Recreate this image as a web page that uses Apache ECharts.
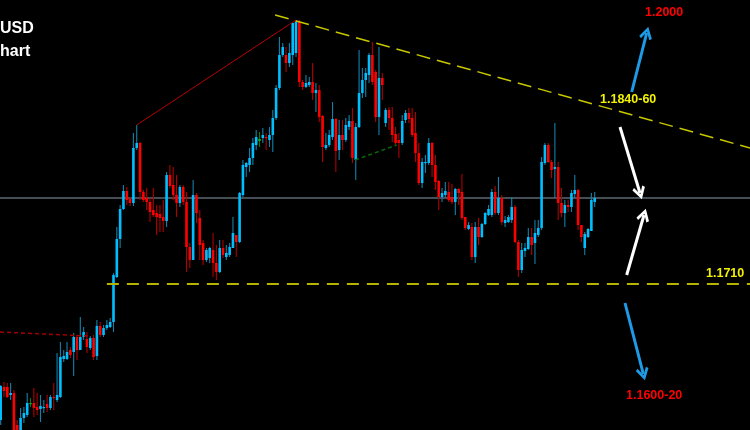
<!DOCTYPE html>
<html><head><meta charset="utf-8">
<script src="https://cdn.jsdelivr.net/npm/echarts@6/dist/echarts.min.js"></script>
<style>html,body{margin:0;padding:0;background:#000;}#c{width:750px;height:430px;}</style>
</head><body><div id="c"></div>
<script>
// ---- Candle data (EUR/USD) ----
const opens = [1.1574,1.1607,1.1607,1.1599,1.1601,1.1569,1.1564,1.1576,1.1579,1.1590,
1.1591,1.1587,1.1585,1.1586,1.1590,1.1586,1.1597,1.1594,1.1597,1.1635,
1.1635,1.1644,1.1642,1.1657,1.1644,1.1657,1.1655,1.1646,1.1656,1.1638,
1.1668,1.1659,1.1666,1.1667,1.1672,1.1717,1.1755,1.1785,1.1803,1.1795,
1.1791,1.1846,1.1851,1.1802,1.1796,1.1792,1.1784,1.1781,1.1780,1.1777,
1.1773,1.1819,1.1809,1.1799,1.1791,1.1807,1.1792,1.1747,1.1734,1.1799,
1.1776,1.1751,1.1734,1.1736,1.1744,1.1731,1.1722,1.1746,1.1737,1.1739,
1.1746,1.1759,1.1752,1.1799,1.1827,1.1829,1.1836,1.1849,1.1853,1.1856,
1.1857,1.1854,1.1859,1.1876,1.1906,1.1939,1.1939,1.1931,1.1939,1.1941,
1.1972,1.1912,1.1907,1.1909,1.1912,1.1901,1.1904,1.1878,1.1846,1.1849,
1.1857,1.1875,1.1844,1.1859,1.1854,1.1867,1.1873,1.1834,1.1867,1.1901,
1.1914,1.1919,1.1939,1.1922,1.1877,1.1916,1.1871,1.1884,1.1876,1.1860,
1.1854,1.1851,1.1874,1.1881,1.1876,1.1861,1.1841,1.1811,1.1831,1.1831,
1.1851,1.1829,1.1813,1.1797,1.1799,1.1802,1.1797,1.1792,1.1805,1.1802,
1.1777,1.1765,1.1767,1.1737,1.1767,1.1757,1.1770,1.1779,1.1779,1.1802,
1.1781,1.1796,1.1771,1.1772,1.1774,1.1787,1.1752,1.1724,1.1743,1.1745,
1.1757,1.1751,1.1759,1.1766,1.1831,1.1849,1.1832,1.1825,1.1827,1.1791,
1.1781,1.1789,1.1787,1.1800,1.1804,1.1769,1.1746,1.1757,1.1763,1.1792];
const closes = [1.1608,1.1603,1.1597,1.1601,1.1562,1.1554,1.1576,1.1581,1.1591,1.1591,
1.1586,1.1584,1.1588,1.1587,1.1586,1.1597,1.1596,1.1599,1.1637,1.1638,
1.1642,1.1639,1.1657,1.1644,1.1657,1.1662,1.1647,1.1656,1.1637,1.1668,
1.1659,1.1666,1.1669,1.1672,1.1719,1.1755,1.1785,1.1803,1.1794,1.1791,
1.1846,1.1851,1.1802,1.1794,1.1792,1.1782,1.1779,1.1777,1.1776,1.1773,
1.1819,1.1808,1.1799,1.1791,1.1807,1.1792,1.1747,1.1734,1.1799,1.1781,
1.1749,1.1734,1.1744,1.1746,1.1731,1.1722,1.1746,1.1739,1.1741,1.1747,
1.1761,1.1752,1.1801,1.1829,1.1831,1.1836,1.1851,1.1857,1.1855,1.1859,
1.1856,1.1859,1.1876,1.1906,1.1939,1.1947,1.1931,1.1941,1.1971,1.1972,
1.1912,1.1907,1.1911,1.1912,1.1901,1.1904,1.1877,1.1847,1.1849,1.1859,
1.1875,1.1843,1.1859,1.1854,1.1869,1.1873,1.1836,1.1867,1.1901,1.1914,
1.1921,1.1939,1.1912,1.1877,1.1916,1.1909,1.1884,1.1876,1.1859,1.1851,
1.1851,1.1873,1.1881,1.1875,1.1859,1.1841,1.1811,1.1832,1.1832,1.1851,
1.1829,1.1812,1.1797,1.1801,1.1803,1.1794,1.1792,1.1805,1.1801,1.1776,
1.1766,1.1769,1.1737,1.1767,1.1757,1.1770,1.1781,1.1785,1.1802,1.1781,
1.1796,1.1772,1.1774,1.1777,1.1787,1.1752,1.1724,1.1744,1.1746,1.1757,
1.1749,1.1761,1.1766,1.1832,1.1849,1.1832,1.1824,1.1827,1.1791,1.1781,
1.1789,1.1787,1.1801,1.1804,1.1769,1.1757,1.1760,1.1765,1.1794,1.1796];
const highs = [1.1609,1.1612,1.1611,1.1611,1.1604,1.1574,1.1586,1.1587,1.1601,1.1596,
1.1606,1.1601,1.1599,1.1594,1.1599,1.1599,1.1611,1.1641,1.1652,1.1644,
1.1652,1.1647,1.1661,1.1659,1.1677,1.1667,1.1662,1.1658,1.1659,1.1674,
1.1672,1.1669,1.1674,1.1676,1.1721,1.1767,1.1789,1.1809,1.1807,1.1797,
1.1861,1.1869,1.1852,1.1804,1.1806,1.1796,1.1806,1.1789,1.1789,1.1794,
1.1822,1.1829,1.1827,1.1819,1.1809,1.1809,1.1802,1.1751,1.1814,1.1801,
1.1784,1.1754,1.1746,1.1747,1.1761,1.1749,1.1754,1.1754,1.1749,1.1751,
1.1777,1.1759,1.1802,1.1834,1.1832,1.1846,1.1856,1.1864,1.1862,1.1866,
1.1861,1.1867,1.1884,1.1909,1.1957,1.1951,1.1947,1.1951,1.1971,1.1974,
1.1974,1.1914,1.1919,1.1917,1.1931,1.1911,1.1909,1.1879,1.1861,1.1864,
1.1892,1.1876,1.1874,1.1874,1.1876,1.1879,1.1886,1.1871,1.1944,1.1926,
1.1926,1.1941,1.1952,1.1924,1.1947,1.1921,1.1886,1.1887,1.1887,1.1867,
1.1861,1.1879,1.1884,1.1886,1.1886,1.1882,1.1851,1.1836,1.1839,1.1856,
1.1852,1.1839,1.1814,1.1806,1.1812,1.1812,1.1810,1.1806,1.1806,1.1820,
1.1777,1.1772,1.1771,1.1772,1.1776,1.1771,1.1782,1.1789,1.1805,1.1808,
1.1817,1.1799,1.1778,1.1779,1.1797,1.1789,1.1754,1.1751,1.1751,1.1766,
1.1766,1.1774,1.1774,1.1837,1.1851,1.1851,1.1834,1.1871,1.1832,1.1806,
1.1794,1.1794,1.1804,1.1819,1.1805,1.1769,1.1762,1.1766,1.1801,1.1802];
const lows = [1.1569,1.1597,1.1596,1.1594,1.1559,1.1549,1.1559,1.1571,1.1577,1.1587,
1.1577,1.1579,1.1572,1.1581,1.1582,1.1584,1.1584,1.1592,1.1596,1.1632,
1.1634,1.1636,1.1618,1.1634,1.1644,1.1654,1.1641,1.1644,1.1634,1.1634,
1.1657,1.1657,1.1664,1.1666,1.1662,1.1716,1.1746,1.1784,1.1789,1.1788,
1.1788,1.1844,1.1794,1.1792,1.1784,1.1772,1.1777,1.1759,1.1762,1.1762,
1.1767,1.1806,1.1794,1.1777,1.1787,1.1789,1.1722,1.1726,1.1734,1.1771,
1.1734,1.1729,1.1732,1.1731,1.1717,1.1714,1.1721,1.1736,1.1734,1.1737,
1.1746,1.1737,1.1751,1.1797,1.1817,1.1822,1.1829,1.1844,1.1847,1.1851,
1.1844,1.1847,1.1842,1.1874,1.1904,1.1937,1.1922,1.1927,1.1929,1.1937,
1.1907,1.1904,1.1906,1.1907,1.1894,1.1882,1.1872,1.1832,1.1844,1.1847,
1.1854,1.1822,1.1834,1.1844,1.1852,1.1864,1.1831,1.1814,1.1866,1.1896,
1.1897,1.1911,1.1909,1.1872,1.1859,1.1894,1.1867,1.1864,1.1852,1.1849,
1.1836,1.1849,1.1871,1.1871,1.1857,1.1832,1.1809,1.1806,1.1821,1.1829,
1.1817,1.1804,1.1784,1.1792,1.1796,1.1792,1.1790,1.1779,1.1789,1.1774,
1.1764,1.1764,1.1734,1.1731,1.1749,1.1756,1.1769,1.1778,1.1777,1.1779,
1.1779,1.1769,1.1767,1.1771,1.1771,1.1751,1.1717,1.1721,1.1737,1.1744,
1.1739,1.1730,1.1757,1.1764,1.1829,1.1831,1.1816,1.1796,1.1774,1.1777,
1.1767,1.1782,1.1782,1.1796,1.1764,1.1752,1.1739,1.1756,1.1763,1.1787];
const dojiBars = [9, 78];           // bars drawn in green in the original

// ---- Levels / annotation lines (bar index, price) ----
const currentPrice = 1.1796;
const supportLevel = 1.1710;
const supportStart = 32;
const trendLine = [[82.7, 1.1979], [225.8, 1.1846]];
const riseLine = [[41, 1.1869], [89, 1.1974]];
const oldSupport = [[-0.2, 1.1662], [26.3, 1.1658]];
const greenLine = [[106.8, 1.1834], [119.3, 1.1849]];
const arrows = [
  {from: [190.15, 1.1902], to: [194.67, 1.1961], color: '#1e9be6'},
  {from: [186.63, 1.1867], to: [192.65, 1.1801], color: '#ffffff'},
  {from: [188.64, 1.1719], to: [193.86, 1.1779], color: '#ffffff'},
  {from: [188.13, 1.1691], to: [193.65, 1.1620], color: '#1e9be6'}
];
const labels = [
  {text: 'USD', x: 0, y: 28.5, color: '#ffffff', size: 16},
  {text: 'hart', x: 0, y: 52, color: '#ffffff', size: 16},
  {text: '1.2000', x: 645, y: 12.5, color: '#ff0000', size: 12.5},
  {text: '1.1840-60', x: 600, y: 100, color: '#f2f200', size: 12.5},
  {text: '1.1710', x: 706, y: 274, color: '#f2f200', size: 12.5},
  {text: '1.1600-20', x: 626, y: 396, color: '#ff0000', size: 12.5}
];

const xMin = -0.2, xMax = 225.8;
const yMin = 1.1564, yMax = 1.1994;

const chart = echarts.init(document.getElementById('c'), null, {renderer: 'canvas'});
const ohlc = opens.map((o, i) => [i, o, closes[i], lows[i], highs[i]]);
const chevron = 'path://M5,0 L10,8.5 L8.3,10 L5,4 L1.7,10 L0,8.5 Z';

function seg(data, color, width, type, z) {
  return {type: 'line', data: data, showSymbol: false, symbol: 'none', silent: true,
    lineStyle: {color: color, width: width, type: type}, z: z, animation: false};
}

chart.setOption({
  backgroundColor: '#000000',
  animation: false,
  grid: {left: 0, right: 0, top: 0, bottom: 0},
  xAxis: {type: 'value', min: xMin, max: xMax, show: false},
  yAxis: {type: 'value', min: yMin, max: yMax, show: false, scale: true},
  series: [
    seg([[xMin, currentPrice], [xMax, currentPrice]], '#8a9aab', 1, 'solid', 1),
    {
      type: 'custom', data: ohlc, z: 5, clip: true,
      encode: {x: 0, y: [1, 2, 3, 4]},
      renderItem: function (params, api) {
        const i = api.value(0);
        const o = api.value(1), c = api.value(2), l = api.value(3), h = api.value(4);
        const po = api.coord([i, o]), pc = api.coord([i, c]);
        const pl = api.coord([i, l]), ph = api.coord([i, h]);
        const cx = po[0];
        const green = dojiBars.indexOf(i) >= 0;
        const up = c >= o;
        const bodyCol = green ? '#16a916' : (up ? '#00bfff' : '#ff0000');
        const wickCol = green ? '#0c7a0c' : (up ? '#1380aa' : '#b00000');
        let top = Math.min(po[1], pc[1]), bot = Math.max(po[1], pc[1]);
        if (bot - top < 1.2) bot = top + 1.2;
        return {type: 'group', children: [
          {type: 'line', shape: {x1: cx, y1: ph[1], x2: cx, y2: pl[1]},
           style: {stroke: wickCol, lineWidth: 1.1}},
          {type: 'rect', shape: {x: cx - 1.3, y: top, width: 2.6, height: bot - top},
           style: {fill: bodyCol}}
        ]};
      }
    },
    seg([[supportStart, supportLevel], [xMax, supportLevel]], '#b4b400', 2, [12, 8], 6),
    seg(trendLine, '#c8c800', 1.5, [14, 7], 6),
    seg(riseLine, '#b80000', 1, 'solid', 6),
    seg(oldSupport, '#a00000', 1.5, [4, 3], 6),
    seg(greenLine, '#0a6a0a', 1.5, [4, 3], 6),
    {
      type: 'lines', coordinateSystem: 'cartesian2d', z: 8, silent: true,
      symbol: ['none', chevron], symbolSize: [12, 13],
      data: arrows.map(a => ({coords: [a.from, a.to], lineStyle: {color: a.color}})),
      lineStyle: {width: 3, opacity: 1, curveness: 0}
    }
  ],
  graphic: labels.map(t => ({
    type: 'text', x: t.x, y: t.y, z: 10, silent: true,
    style: {text: t.text, fill: t.color, verticalAlign: 'middle', align: 'left',
      font: 'bold ' + t.size + 'px "Liberation Sans", Arial, sans-serif'}
  }))
});
</script>
</body></html>
